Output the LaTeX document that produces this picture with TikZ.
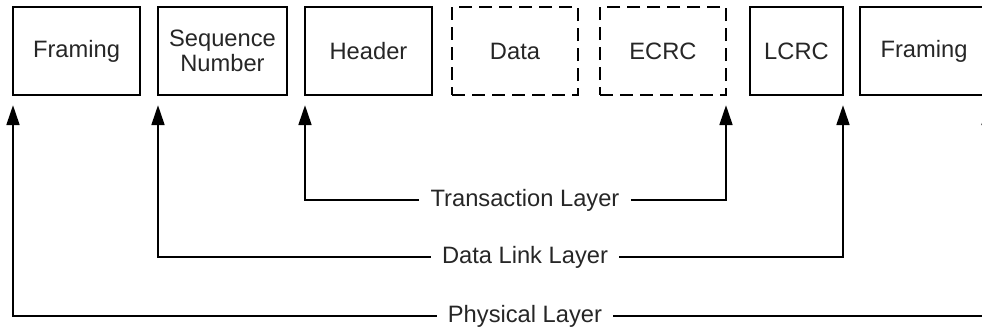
\documentclass[tikz,border=0pt]{standalone}
\usepackage{fontspec}
\setmainfont{Liberation Sans}
\usepackage{tikz}
\usetikzlibrary{arrows.meta,calc}
\tikzset{
   pktbox/.style={draw=black, line width=1.4pt, outer sep=0pt, inner sep=0pt,
                  minimum height=44pt, align=center, text=black!85,
                  font=\fontsize{11.85}{12.5}\selectfont},
   dashbox/.style={pktbox, dash pattern=on 6.5pt off 3.5pt},
   layerlabel/.style={inner xsep=5.5pt, inner ysep=0pt, text=black!85,
                  font=\fontsize{11.85}{12.5}\selectfont},
   uparrow/.style={line width=1.4pt, -{Triangle[length=10pt,width=6.3pt]}, shorten >=5pt}
}

\begin{document}
\begin{tikzpicture}[x=0.5pt,y=-0.5pt]
\path[use as bounding box] (0,0) rectangle (982,333);
\clip (0,0) rectangle (982,333);

% the packet fields
\node[pktbox, minimum width=63.5pt] (fr1)  at (76.5,51)  {Framing};
\node[pktbox, minimum width=64.5pt] (seq)  at (222.5,51) {Sequence\\Number};
\node[pktbox, minimum width=63.5pt] (head) at (368.5,51) {Header};
\node[dashbox, minimum width=63pt]  (data) at (515,51)   {Data};
\node[dashbox, minimum width=63pt]  (ecrc) at (663,51)   {ECRC};
\node[pktbox, minimum width=46.5pt] (lcrc) at (796.5,51) {LCRC};
\node[pktbox, minimum width=64pt]   (fr2)  at (924,51)   {Framing};

% the layers
\node[layerlabel] (trans) at (525,200) {Transaction Layer};
\node[layerlabel] (dll)   at (525,257) {Data Link Layer};
\node[layerlabel] (phys)  at (525,316) {Physical Layer};

\draw[uparrow] (trans.west) -| (head.south west);
\draw[uparrow] (trans.east) -| (ecrc.south east);
\draw[uparrow] (dll.west) -| (seq.south west);
\draw[uparrow] (dll.east) -| (lcrc.south east);
\draw[uparrow] (phys.west) -| (fr1.south west);
\draw[uparrow] (phys.east) -| (fr2.south east);
\end{tikzpicture}
\end{document}
